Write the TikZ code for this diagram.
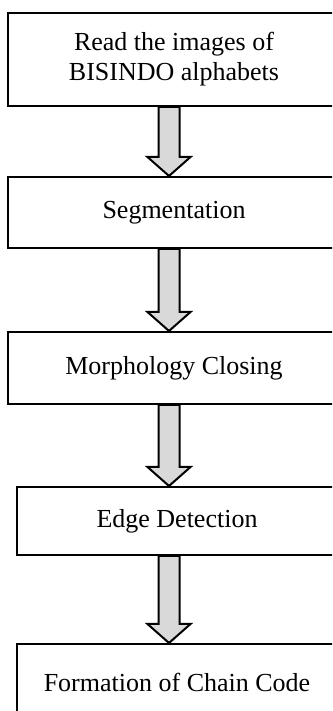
\documentclass[tikz,border=0pt]{standalone}
\usepackage{fontspec}
\setmainfont{Liberation Serif}
\usetikzlibrary{calc}
\begin{document}
\begin{tikzpicture}[x=1pt,y=1pt,
  stepbox/.style={draw=black,line width=2pt,fill=white,rectangle,inner sep=0pt,
    align=center,font=\fontsize{26}{30}\selectfont},
  blockarr/.style={draw=black,line width=2pt,fill=black!15,line join=miter}]
\useasboundingbox (0,0) rectangle (332,711);
\clip (0,0) rectangle (332,711);
\fill[white] (0,0) rectangle (332,711);
\coordinate (ax) at (169,0);
\node[stepbox,minimum width=332pt,minimum height=93pt] (b1) at (174,651.5) {Read the images of\\BISINDO alphabets};
\node[stepbox,minimum width=332pt,minimum height=71pt] (b2) at (174,498.5) {Segmentation};
\node[stepbox,minimum width=332pt,minimum height=72pt] (b3) at (174,343) {Morphology Closing};
\node[stepbox,minimum width=320pt,minimum height=68pt] (b4) at (177,190) {Edge Detection};
\node[stepbox,minimum width=320pt,minimum height=76pt] (b5) at (177,29) {Formation of Chain Code};
\foreach \s/\t in {b1/b2,b2/b3,b3/b4,b4/b5}{
  \draw[blockarr] ($(\s.south -| ax)+(-10.5,0)$) -- ($(\t.north -| ax)+(-10.5,19)$)
    -- ++(-11,0) -- (\t.north -| ax) -- ++(21.5,19) -- ++(-11,0)
    -- ($(\s.south -| ax)+(10.5,0)$) -- cycle;
}
\end{tikzpicture}
\end{document}
